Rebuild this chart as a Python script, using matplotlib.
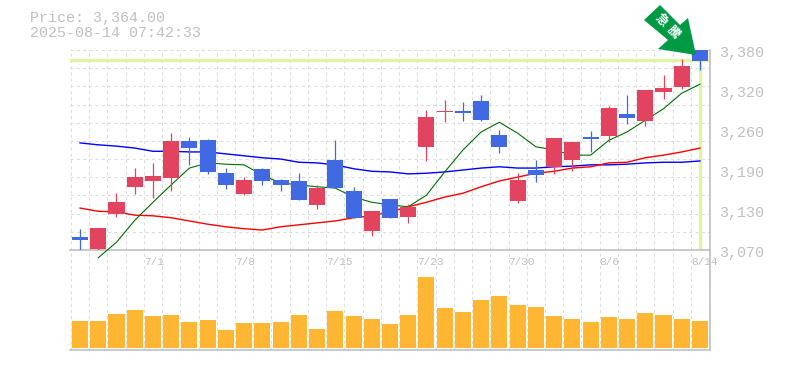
import numpy as np
import matplotlib
matplotlib.use("Agg")
import matplotlib.pyplot as plt
from matplotlib.patches import Polygon, Rectangle

# values
opens = [3090, 3072, 3126, 3168, 3177, 3182, 3239, 3240, 3189, 3157, 3196, 3178, 3177, 3140, 3210, 3161, 3099, 3149, 3121, 3230, 3284, 3285, 3301, 3248, 3146, 3194, 3199, 3210, 3245, 3247, 3281, 3270, 3315, 3323, 3380]
closes = [3086, 3104, 3144, 3183, 3185, 3239, 3228, 3191, 3171, 3178, 3177, 3171, 3148, 3166, 3166, 3120, 3130, 3120, 3137, 3276, 3285, 3282, 3272, 3230, 3178, 3186, 3244, 3237, 3242, 3290, 3275, 3318, 3321, 3355, 3363]
highs = [3103, 3104, 3158, 3197, 3205, 3251, 3245, 3242, 3197, 3183, 3197, 3180, 3189, 3171, 3240, 3168, 3130, 3149, 3141, 3287, 3302, 3299, 3310, 3256, 3189, 3210, 3244, 3237, 3254, 3293, 3310, 3318, 3341, 3366, 3380]
lows = [3069, 3069, 3121, 3157, 3151, 3161, 3202, 3188, 3165, 3155, 3171, 3161, 3148, 3134, 3166, 3120, 3092, 3120, 3112, 3208, 3268, 3270, 3270, 3220, 3143, 3175, 3188, 3192, 3222, 3237, 3265, 3262, 3304, 3320, 3349]
ma_short = [np.nan, 3058, 3082, 3116, 3144, 3171, 3197, 3205, 3203, 3202, 3186, 3174, 3171, 3168, 3166, 3152, 3144, 3140, 3137, 3155, 3191, 3225, 3253, 3268, 3251, 3230, 3225, 3217, 3217, 3240, 3253, 3271, 3289, 3313, 3327]
ma_mid = [3135, 3130, 3129, 3124, 3123, 3120, 3115, 3110, 3106, 3103, 3101, 3106, 3109, 3112, 3115, 3120, 3123, 3129, 3137, 3144, 3152, 3158, 3168, 3177, 3183, 3189, 3192, 3197, 3199, 3205, 3206, 3213, 3217, 3222, 3228]
ma_long = [3236, 3233, 3231, 3228, 3223, 3223, 3222, 3222, 3219, 3216, 3213, 3211, 3206, 3205, 3202, 3196, 3192, 3191, 3188, 3189, 3191, 3194, 3197, 3199, 3197, 3197, 3199, 3200, 3202, 3202, 3203, 3205, 3206, 3206, 3208]
volumes = [27, 27, 34, 38, 32, 33, 26, 28, 18, 25, 25, 26, 33, 19, 37, 32, 29, 24, 33, 71, 40, 36, 48, 52, 43, 41, 32, 29, 26, 31, 29, 35, 33, 29, 27]
date_labels = ["7/1", "7/8", "7/15", "7/23", "7/30", "8/6", "8/14"]
date_slots = [4, 9, 14, 19, 24, 29, 34]
price_ticks = [3380, 3318, 3256, 3194, 3132, 3070]
last_price = 3364
price_text = "Price: 3,364.00"
time_text = "2025-08-14 07:42:33"

RED = "#e2435f"
BLUE = "#4169e1"
ORANGE = "#ffb733"
GREY = "#c0c0c0"
GRID = "#dcdcdc"
HILITE = "#e0f4a8"
MONO = "Liberation Mono"

W, H = 785, 370
fig = plt.figure(figsize=(W / 100, H / 100), dpi=100)


def panel(left, top, right, bottom):
    return fig.add_axes([left / W, 1 - bottom / H, (right - left) / W, (bottom - top) / H])


ax = panel(70, 50, 710, 250)
ax_vol = panel(70, 250, 710, 350)
ax.set_zorder(2)
ax.patch.set_visible(False)
xs = np.arange(len(closes))
grid_x = np.arange(-0.5, 35, 1)

for a in (ax, ax_vol):
    a.set_xlim(-0.55, 34.55)
    a.set_xticks(grid_x)
    a.set_xticklabels([])
    a.tick_params(length=0, labelleft=False, labelbottom=False)
    a.grid(True, axis="x", color=GRID, lw=0.75, ls=(0, (3, 3)))
    a.set_axisbelow(True)
    for s in a.spines.values():
        s.set_visible(False)
    for side in ("right", "bottom"):
        a.spines[side].set_visible(True)
        a.spines[side].set_color(GREY)
        a.spines[side].set_linewidth(1.2)

ax.set_ylim(3070, 3380)
ax.set_yticks(np.linspace(3070, 3380, 12))
ax.grid(True, axis="y", color=GRID, lw=0.75, ls=(0, (3, 3)))

# highlight of the last price
ax.axhline(last_price, color=HILITE, lw=2.5, zorder=1.5)
ax.plot([xs[-1], xs[-1]], [3070, last_price], color=HILITE, lw=2.5, zorder=1.5)

# moving averages sit under the candles
ax.plot(xs, ma_long, color="#0000ff", lw=1, zorder=2.5)
ax.plot(xs, ma_mid, color="#ff0000", lw=1, zorder=2.5)
ax.plot(xs, ma_short, color="#007000", lw=0.8, zorder=2.6, clip_on=False)

# candles
width = 0.88
for i in xs:
    color = RED if closes[i] >= opens[i] else BLUE
    ax.plot([i, i], [lows[i], highs[i]], color=color, lw=0.9, zorder=3, solid_capstyle="butt")
    bottom = min(opens[i], closes[i])
    height = abs(closes[i] - opens[i])
    ax.add_patch(Rectangle((i - width / 2, bottom), width, height, facecolor=color, edgecolor="none", zorder=3))

# volume
ax_vol.bar(xs, volumes, width=width, color=ORANGE, zorder=3)
ax_vol.set_ylim(-2, 98)

for slot, label in zip(date_slots, date_labels):
    ax_vol.annotate(label, (slot - 0.5, 98), xytext=(0, -5), textcoords="offset points", ha="left", va="top",
                    color=GREY, fontsize=8, family=MONO, annotation_clip=False)

for p in price_ticks:
    ax.annotate(f"{round(p / 10) * 10:,}", (1, p), xycoords=("axes fraction", "data"), xytext=(6.5, -2), textcoords="offset points",
                ha="left", va="center", color=GREY, fontsize=10.8, family=MONO, annotation_clip=False)

fig.text(30 / W, 1 - 18 / H, price_text, color=GREY, fontsize=10.8, family=MONO, va="center")
fig.text(30 / W, 1 - 33 / H, time_text, color=GREY, fontsize=10.8, family=MONO, va="center")

# arrow badge, in pixel coordinates of the figure
arrow_px = [(660, 5), (644, 20), (668, 40), (658, 49), (696, 55), (688, 18), (680, 25)]
fig.add_artist(Polygon([(x / W, 1 - y / H) for x, y in arrow_px], closed=True, transform=fig.transFigure,
                       facecolor="#009944", edgecolor="none", zorder=10))
fig.text(661 / W, 1 - 20 / H, "急", color="white", fontsize=9, rotation=-45, ha="center", va="center", fontweight="bold",
         family=["Noto Sans CJK JP", "DejaVu Sans"], zorder=11)
fig.text(673 / W, 1 - 32 / H, "騰", color="white", fontsize=9, rotation=-45, ha="center", va="center", fontweight="bold",
         family=["Noto Sans CJK JP", "DejaVu Sans"], zorder=11)

fig.savefig("out.png", dpi=100)
